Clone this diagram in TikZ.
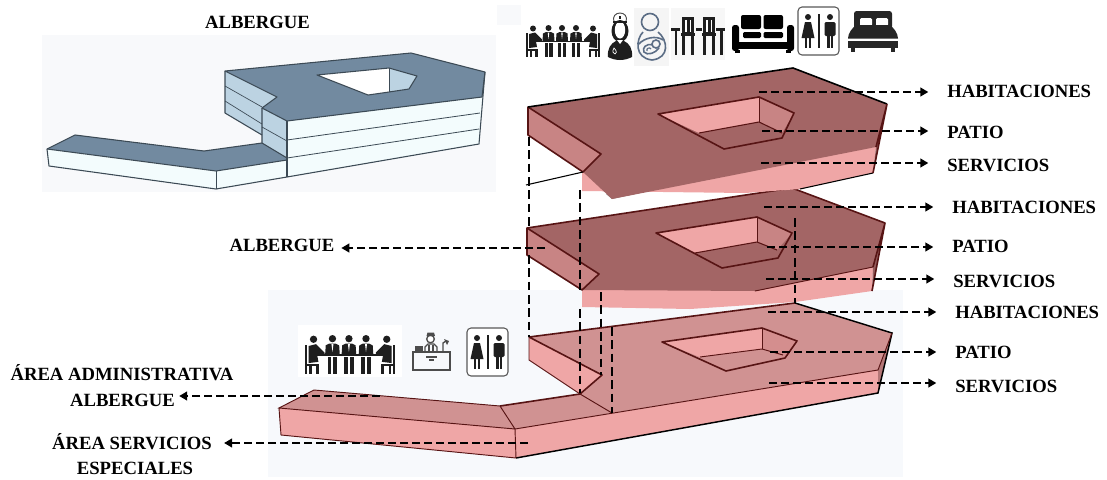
\documentclass[tikz,border=0pt]{standalone}
\usepackage{fontspec}
\setmainfont{Liberation Serif}
\usetikzlibrary{arrows.meta}
\definecolor{bgA}{HTML}{F8F9FB}
\definecolor{bgB}{HTML}{F7F9FC}
\definecolor{slate}{HTML}{728AA0}
\definecolor{paleblue}{HTML}{BCD3E2}
\definecolor{icewhite}{HTML}{F3FCFD}
\definecolor{slateedge}{HTML}{3C4A55}
\definecolor{roofdark}{HTML}{A36565}
\definecolor{roofmid}{HTML}{D09292}
\definecolor{pinklight}{HTML}{EFA6A6}
\definecolor{wallmid}{HTML}{C88484}
\definecolor{maroon}{HTML}{571414}
\definecolor{inkdark}{HTML}{1E1E1E}
\definecolor{motherline}{HTML}{5B6D85}
\tikzset{
  lbl/.style={font=\bfseries\fontsize{14}{16}\selectfont,inner sep=0pt,text=black,anchor=west},
  lblc/.style={font=\bfseries\fontsize{14}{16}\selectfont,inner sep=0pt,text=black},
  arrbase/.style={line width=2pt,dash pattern=on 6pt off 3pt,-{Triangle[length=6pt,width=6.5pt]}},
  arr/.style={arrbase,shorten >=14pt},
  vdash/.style={line width=1.6pt,dash pattern=on 6.5pt off 3.5pt},
  bl/.style={slateedge,line width=.8pt,line join=round},
  rd/.style={maroon,line width=1.2pt,line join=round},
  meetingicon/.pic={
    \foreach \p in {22.5,36,50}{
      \fill[inkdark] (\p,3) circle (3);
      \fill[inkdark] (\p-6,16) -- (\p-5.5,8.5) -- (\p-2.5,7) -- (\p+2.5,7) -- (\p+5.5,8.5) -- (\p+6,16) -- cycle;
      \fill[white] (\p-.8,7.5) -- (\p+.8,7.5) -- (\p,14) -- cycle;
      \fill[inkdark] (\p-4,18) rectangle (\p-.8,32);
      \fill[inkdark] (\p+.8,18) rectangle (\p+4,32);
    }
    \draw[inkdark,line width=1pt] (9,16.5) -- (65,16.5);
    \foreach \s/\o in {1/0,-1/74}{
      \begin{scope}[shift={(\o,0)},xscale=\s]
        \fill[inkdark] (7,3.5) circle (3);
        \fill[inkdark] (3,9) -- (9,7.5) -- (16,14.5) -- (16,16.5) -- (10,16.5) -- (11,22) -- (3,23) -- cycle;
        \fill[inkdark] (0,8) rectangle (1.7,32);
        \fill[inkdark] (0,23.5) rectangle (11.5,25.5);
        \fill[inkdark] (9,25) rectangle (11.5,32);
        \fill[inkdark] (3.5,25) rectangle (5.5,32);
      \end{scope}
    }
  },
  nurseicon/.pic={
    \draw[inkdark!80,line width=.7pt,fill=white] (6,9) .. controls (4,3) and (8,0) .. (12,0) .. controls (16,0) and (20,3) .. (18,9) -- cycle;
    \fill[inkdark] (10.8,2.5) rectangle (13.2,6);
    \fill[inkdark] (12,18) ellipse (8.5 and 11);
    \fill[white] (12,17) ellipse (5.2 and 8.5);
    \fill[inkdark] (5,8) rectangle (19,10);
    \fill[inkdark] (0,44) .. controls (-1,36) and (3,30) .. (8,28) -- (16,28) .. controls (21,30) and (25,36) .. (24,44) .. controls (16,48) and (8,48) .. (0,44) -- cycle;
    \fill[white] (9,27) -- (15,27) -- (12,31) -- cycle;
    \draw[white,line width=.5pt] (6,35) .. controls (4,38) and (5,41) .. (7,41) .. controls (9,41) and (9,38) .. (6,35) -- cycle;
  },
  mothericon/.pic={
    \fill[black!4] (0,0) rectangle (35,58);
    \draw[motherline,line width=1.2pt] (16,14) circle (8.5);
    \draw[motherline,line width=1.2pt] (9,24) .. controls (2,31) and (0,50) .. (18,52) .. controls (36,50) and (34,32) .. (24,24);
    \draw[motherline,line width=1.2pt] (5,36) .. controls (10,30) and (22,27) .. (29,32);
    \draw[motherline,line width=1.2pt] (22,36) circle (4);
    \draw[motherline,line width=1.2pt] (18.5,37) .. controls (12,35) and (8,40) .. (10,44) .. controls (13,48) and (22,45) .. (25,40);
    \draw[motherline,line width=.9pt] (13,43) .. controls (12,40) and (16,39) .. (17,41);
  },
  chairsicon/.pic={
    \fill[black!3] (0,-8) rectangle (54,44);
    \foreach \p in {11,32}{
      \fill[inkdark] (\p,1) rectangle (\p+12,17);
      \fill[white] (\p+3,3.5) rectangle (\p+4.5,16);
      \fill[white] (\p+7.5,3.5) rectangle (\p+9,16);
      \fill[inkdark] (\p-1,17) rectangle (\p+13,20);
      \fill[inkdark] (\p,20) rectangle (\p+2.6,39);
      \fill[inkdark] (\p+9.4,20) rectangle (\p+12,39);
    }
    \fill[inkdark] (0,12) rectangle (9,15);
    \fill[inkdark] (24.5,12) rectangle (30.5,15);
    \fill[inkdark] (45,12) rectangle (54,15);
    \fill[inkdark] (3.5,15) rectangle (6,39);
    \fill[inkdark] (49,15) rectangle (51.5,39);
  },
  sofaicon/.pic={
    \fill[black,rounded corners=1.5pt] (9,0) rectangle (29,14);
    \fill[black,rounded corners=1.5pt] (31.5,0) rectangle (51,14);
    \fill[black,rounded corners=1pt] (11,17) rectangle (29,23);
    \fill[black,rounded corners=1pt] (31.5,17) rectangle (51,23);
    \fill[black,rounded corners=2pt] (0,10) rectangle (7,36);
    \fill[black,rounded corners=2pt] (55,10) rectangle (62,36);
    \fill[black] (5,27) rectangle (57,34);
    \fill[black] (3,35) rectangle (8,38);
    \fill[black] (54,35) rectangle (59,38);
  },
  wcicon/.pic={
    \draw[black!65,line width=.8pt,fill=white,rounded corners=3pt] (0,0) rectangle (41,48);
    \draw[inkdark,line width=1pt] (21,7) -- (21,41);
    \fill[inkdark] (10,10) circle (3);
    \fill[inkdark] (7,15) -- (13,15) -- (16.5,31) -- (3.5,31) -- cycle;
    \fill[inkdark] (7,31) rectangle (9.4,41);
    \fill[inkdark] (10.6,31) rectangle (13,41);
    \fill[inkdark] (32,10) circle (3);
    \fill[inkdark,rounded corners=1pt] (26.5,15) rectangle (37.5,29);
    \fill[inkdark] (29,27) rectangle (31.5,41);
    \fill[inkdark] (32.5,27) rectangle (35,41);
  },
  bedicon/.pic={
    \fill[black!85,rounded corners=2pt] (6,0) rectangle (44,18);
    \fill[white,rounded corners=1pt] (12,7) rectangle (24,15);
    \fill[white,rounded corners=1pt] (28,7) rectangle (40,15);
    \fill[black!85] (9,14) -- (41,14) .. controls (46,16) and (50,23) .. (50,27.5) -- (0,27.5) .. controls (0,23) and (4,16) .. (9,14) -- cycle;
    \fill[black!85] (0,29.5) rectangle (50,37);
    \fill[black!85] (3,37) rectangle (7,41);
    \fill[black!85] (43,37) rectangle (47,41);
  },
  deskicon/.pic={
    \draw[black!70,line width=1pt] (1,20) rectangle (38,38);
    \draw[black!70,line width=1.5pt] (0,20) -- (39,20);
    \draw[black!70,line width=1pt] (14,25) -- (25,25);
    \draw[black!70,line width=.8pt] (17,28) -- (22,28);
    \draw[black!70,line width=1pt,fill=white] (18.5,7) circle (3.8);
    \fill[black!70] (14.5,4) -- (15.5,.5) -- (22,.5) -- (23,4) -- cycle;
    \draw[black!70,line width=1pt] (13,19) -- (13,15) -- (16,12) -- (22,12) -- (25,15) -- (25,19);
    \draw[black!70,line width=.8pt] (17,19) -- (17,13) (21,19) -- (21,13);
    \fill[black!70] (3,14) rectangle (11,19.5);
    \draw[black!70,line width=1pt] (31,19) -- (31,11) -- (34,9);
    \fill[black!70] (32,7) -- (37,9) -- (35,13) -- cycle;
  }
}
\begin{document}
\begin{tikzpicture}[x=0.75pt,y=-0.75pt]
\useasboundingbox (0,0) rectangle (1107,479);
\fill[white] (0,0) rectangle (1107,479);
% faint backdrops
\fill[bgA] (42,35) rectangle (496,192);
\fill[bgA] (497,5) rectangle (521,25);
\fill[bgB] (268,290) rectangle (903,477);
\fill[white] (298,325) rectangle (402,377);

% ---- small reference model, top left
\fill[icewhite] (287,121) -- (482,97) -- (479,144) -- (287,177) -- cycle;
\fill[slate] (225,71) -- (411,53) -- (485,72) -- (482,97) -- (287,121) -- (262,108) -- (277,97) -- cycle;
\fill[paleblue] (225,71) -- (277,97) -- (262,108) -- (262,135) -- (225,113) -- cycle;
\fill[paleblue] (262,108) -- (287,121) -- (287,158) -- (262,143) -- cycle;
\fill[slate] (47,149) -- (75,135) -- (204,151) -- (262,143) -- (287,158) -- (287,160) -- (216,171) -- cycle;
\fill[icewhite] (47,149) -- (216,171) -- (287,160) -- (287,177) -- (216,189) -- (49,166) -- cycle;
\fill[white] (317,75) -- (389,68) -- (389,92) -- (368,95) -- cycle;
\fill[paleblue] (389,68) -- (417,76) -- (409,89) -- (389,92) -- cycle;
\draw[bl] (225,71) -- (411,53) -- (485,72) -- (482,97) -- (287,121) -- (262,108) -- (277,97) -- cycle;
\draw[bl] (485,72) -- (479,144) -- (287,177) -- (216,189) -- (49,166) -- (47,149) -- (75,135) -- (204,151) -- (262,143);
\draw[bl] (47,149) -- (216,171) -- (287,160);
\draw[bl] (225,71) -- (225,113) -- (262,135);
\draw[bl] (262,108) -- (262,143) -- (287,158);
\draw[bl] (287,121) -- (287,177);
\draw[bl,line width=.5pt] (216,171) -- (216,189);
\draw[bl,line width=.5pt] (225,86) -- (262,107) (225,101) -- (262,124) (262,127) -- (287,141);
\draw[bl,line width=.6pt] (287,140) -- (480,113) (287,158) -- (479,129);
\draw[bl] (317,75) -- (389,68) -- (417,76) -- (409,89) -- (389,92) -- (368,95) -- cycle;
\draw[bl,line width=.4pt] (389,68) -- (389,92);

% ---- lower level
\fill[pinklight] (279,408) -- (515,429) -- (878,370) -- (878,393) -- (516,458) -- (281,435) -- cycle;
\fill[roofmid] (529,337) -- (795,303) -- (892,333) -- (878,370) -- (612,413) -- (515,429) -- (279,408) -- (314,390) -- (500,406) -- (580,394) -- (602,375) -- cycle;
\fill[pinklight] (529,337) -- (602,375) -- (580,394) -- (529,360) -- cycle;
\fill[wallmid!90!black] (892,333) -- (878,370) -- (878,393) -- cycle;
\fill[pinklight] (662,342) -- (762,328) -- (762,349) -- (700,357) -- cycle;
\fill[wallmid!70!pinklight] (762,328) -- (797,341) -- (785,358) -- (762,349) -- cycle;
\draw[rd] (662,342) -- (762,328) -- (797,341) -- (785,358) -- (726,371) -- cycle;
\draw[rd,line width=.7pt] (700,357) -- (762,349) -- (783,355);
\draw[maroon,line width=.3pt] (762,328) -- (762,349);
\draw[rd] (529,337) -- (795,303) (529,337) -- (602,375) -- (580,394) -- (500,406);
\draw[black,line width=1.1pt] (795,303) -- (892,333) -- (878,393) -- (516,458);
\draw[maroon,line width=.7pt] (892,333) -- (878,370) -- (515,429) -- (279,408) -- (314,390) -- (500,406) -- (515,429) -- (516,458) -- (281,435) -- (279,408);
\draw[maroon,line width=.7pt] (529,337) -- (529,360) -- (580,394) -- (612,413);

% ---- middle level
\fill[pinklight] (582,290) -- (582,307) -- (690,309) -- (795,302) -- (872,291) -- (873,267) -- cycle;
\fill[roofdark] (527,228) -- (792,188) -- (885,223) -- (873,267) -- (755,291) -- (582,290) -- (599,274) -- cycle;
\fill[wallmid] (527,228) -- (599,274) -- (582,290) -- (527,255) -- cycle;
\fill[roofdark!90!black] (885,223) -- (873,267) -- (872,291) -- cycle;
\fill[pinklight] (656,233) -- (757,217) -- (757,242) -- (695,253) -- cycle;
\fill[wallmid] (757,217) -- (792,233) -- (777,250) -- (757,242) -- cycle;
\draw[rd] (656,233) -- (757,217) -- (792,233) -- (778,258) -- (722,268) -- cycle;
\draw[rd,line width=.8pt] (695,253) -- (757,242) -- (777,250);
\draw[maroon,line width=.3pt] (757,217) -- (757,242);
\draw[rd] (527,228) -- (599,274) -- (582,290) -- (527,255) -- cycle;
\draw[rd] (527,228) -- (792,188) -- (885,223) -- (873,267) (885,223) -- (872,291);
\draw[maroon,line width=.7pt] (873,267) -- (755,291);

% ---- upper level
\fill[black!45] (606,194) -- (612,199) -- (640,193) -- cycle;
\fill[pinklight] (582,172) -- (582,191) -- (745,193) -- (800,189) -- (873,173) -- (876,147) -- cycle;
\draw[black,line width=.8pt] (800,189) -- (873,173);
\fill[roofdark] (528,107) -- (793,68) -- (887,104) -- (876,147) -- (612,199) -- (583,172) -- (601,154) -- cycle;
\fill[wallmid] (528,107) -- (601,154) -- (583,172) -- (528,135) -- cycle;
\fill[roofdark!90!black] (887,104) -- (876,147) -- (873,173) -- cycle;
\fill[pinklight] (658,114) -- (759,97) -- (759,122) -- (699,133) -- cycle;
\fill[wallmid] (759,97) -- (794,113) -- (782,133) -- (759,122) -- cycle;
\draw[rd] (658,114) -- (759,97) -- (794,113) -- (782,138) -- (724,149) -- cycle;
\draw[rd,line width=.8pt] (699,133) -- (759,122) -- (782,133);
\draw[maroon,line width=.3pt] (759,97) -- (759,122);
\draw[rd] (528,107) -- (601,154) -- (583,172) -- (528,135) -- cycle;
\draw[black,line width=1.2pt] (528,107) -- (793,68) -- (887,104);
\draw[rd] (887,104) -- (876,147) (887,104) -- (873,173);
\draw[black,line width=.8pt] (526,185) -- (583,172);

% ---- vertical dashed guides
\coordinate (va1) at (529,137); \coordinate (va2) at (529,228);
\coordinate (vb1) at (529,255); \coordinate (vb2) at (529,337);
\coordinate (vc1) at (580,190); \coordinate (vc2) at (580,290);
\coordinate (vd1) at (580,309); \coordinate (vd2) at (580,393);
\coordinate (ve1) at (601,292); \coordinate (ve2) at (601,375);
\coordinate (vf1) at (612,327); \coordinate (vf2) at (612,413);
\coordinate (vg1) at (795,218); \coordinate (vg2) at (795,303);
\draw[vdash] (va1) -- (va2);
\draw[vdash] (vb1) -- (vb2);
\draw[vdash] (vc1) -- (vc2);
\draw[vdash] (vd1) -- (vd2);
\draw[vdash] (ve1) -- (ve2);
\draw[vdash] (vf1) -- (vf2);
\draw[vdash] (vg1) -- (vg2);

% ---- labels
\node[lblc] (tTitle) at (257.5,22) {ALBERGUE};
\node[lbl] (tH1) at (947,91) {HABITACIONES};
\node[lbl] (tP1) at (947,132) {PATIO};
\node[lbl] (tS1) at (947,165) {SERVICIOS};
\node[lbl] (tH2) at (952,207) {HABITACIONES};
\node[lbl] (tP2) at (952,246) {PATIO};
\node[lbl] (tS2) at (953,281) {SERVICIOS};
\node[lbl] (tH3) at (955,312) {HABITACIONES};
\node[lbl] (tP3) at (955,352) {PATIO};
\node[lbl] (tS3) at (955,386) {SERVICIOS};
\node[lblc] (tAlb) at (282,245) {ALBERGUE};
\node[lblc] (tAdm) at (122,373) {ÁREA ADMINISTRATIVA};
\node[lblc] (tAdm2) at (122.5,400) {ALBERGUE};
\node[lblc] (tSer) at (132,442) {ÁREA SERVICIOS};
\node[lblc] (tSer2) at (135,468) {ESPECIALES};

% ---- arrows
\coordinate (aH1) at (759,92); \coordinate (aP1) at (762,131); \coordinate (aS1) at (761,163);
\coordinate (aH2) at (764,207); \coordinate (aP2) at (767,247); \coordinate (aS2) at (766,279);
\coordinate (aH3) at (768,312); \coordinate (aP3) at (770,352); \coordinate (aS3) at (769,383);
\coordinate (aAlb) at (545,248); \coordinate (aAdm) at (380,396); \coordinate (aSer) at (528,443);
\draw[arr] (aH1) -- (aH1 -| tH1.west);
\draw[arr] (aP1) -- (aP1 -| tP1.west);
\draw[arr] (aS1) -- (aS1 -| tS1.west);
\draw[arr] (aH2) -- (aH2 -| tH2.west);
\draw[arr] (aP2) -- (aP2 -| tP2.west);
\draw[arr] (aS2) -- (aS2 -| tS2.west);
\draw[arr] (aH3) -- (aH3 -| tH3.west);
\draw[arr] (aP3) -- (aP3 -| tP3.west);
\draw[arr] (aS3) -- (aS3 -| tS3.west);
\draw[arrbase,shorten >=5pt] (aAlb) -- (aAlb -| tAlb.east);
\draw[arrbase,shorten >=3pt] (aAdm) -- (aAdm -| tAdm2.east);
\draw[arrbase,shorten >=9pt] (aSer) -- (aSer -| tSer.east);

% ---- icons
\pic at (526,25) {meetingicon};
\pic at (608,13) {nurseicon};
\pic at (634,8) {mothericon};
\pic at (671,16) {chairsicon};
\pic at (732,15) {sofaicon};
\pic at (798,7) {wcicon};
\pic at (848,11) {bedicon};
\pic[scale=1.22] at (305,335) {meetingicon};
\pic at (412,332) {deskicon};
\pic at (467,328) {wcicon};
\end{tikzpicture}
\end{document}
